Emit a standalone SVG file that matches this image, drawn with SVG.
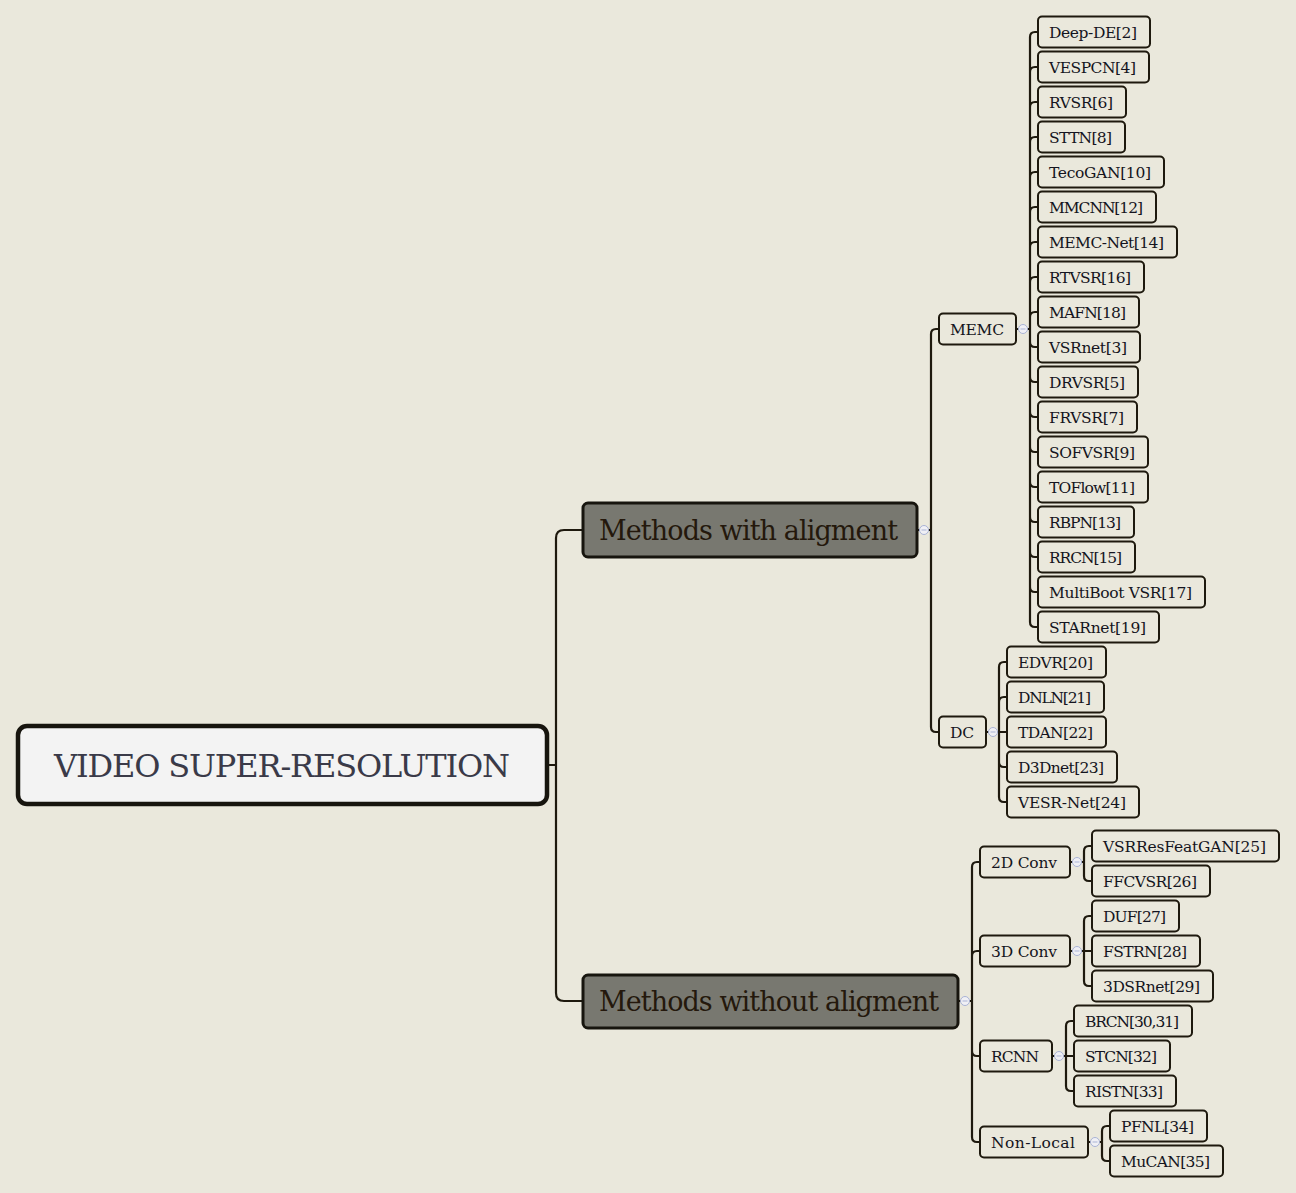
<svg xmlns="http://www.w3.org/2000/svg" width="1296" height="1193" viewBox="0 0 1296 1193">
<style>
.bg{fill:#EAE8DC}
.c{fill:none;stroke:#1e190e;stroke-width:2.2;stroke-linecap:round}
.n rect{fill:#EAE8DC;stroke:#1e190e;stroke-width:2}
.n text{font-family:"DejaVu Serif","Liberation Serif",serif;font-size:15.5px;fill:#141420}
.b rect{fill:#787870;stroke:#17150e;stroke-width:3}
.b text{font-family:"DejaVu Serif","Liberation Serif",serif;font-size:27px;fill:#24180c}
.r rect{fill:#F3F3F3;stroke:#17150e;stroke-width:4.5}
.r text{font-family:"DejaVu Serif","Liberation Serif",serif;font-size:32px;fill:#3a3a48}
.t circle{fill:#f0f0f5;stroke:#a9b3d6;stroke-width:1}
.t path{stroke:#a9b3d6;stroke-width:1}
</style>
<rect class="bg" x="0" y="0" width="1296" height="1193"/>
<g id="connectors">
<path class="c" d="M547,765 L556,765 M556,765 L556,538 Q556,530 564,530 L583,530 M556,765 L556,993 Q556,1001 564,1001 L583,1001"/>
<path class="c" d="M917,530 L931,530 M931,530 L931,334 Q931,329 936,329 L939,329 M931,530 L931,727 Q931,732 936,732 L939,732"/>
<path class="c" d="M1016,329 L1030,329
M1030,329 L1030,37 Q1030,32 1035,32 L1038,32
M1030,329 L1030,72 Q1030,67 1035,67 L1038,67
M1030,329 L1030,107 Q1030,102 1035,102 L1038,102
M1030,329 L1030,142 Q1030,137 1035,137 L1038,137
M1030,329 L1030,177 Q1030,172 1035,172 L1038,172
M1030,329 L1030,212 Q1030,207 1035,207 L1038,207
M1030,329 L1030,247 Q1030,242 1035,242 L1038,242
M1030,329 L1030,282 Q1030,277 1035,277 L1038,277
M1030,329 L1030,317 Q1030,312 1035,312 L1038,312
M1030,329 L1030,342 Q1030,347 1035,347 L1038,347
M1030,329 L1030,377 Q1030,382 1035,382 L1038,382
M1030,329 L1030,412 Q1030,417 1035,417 L1038,417
M1030,329 L1030,447 Q1030,452 1035,452 L1038,452
M1030,329 L1030,482 Q1030,487 1035,487 L1038,487
M1030,329 L1030,517 Q1030,522 1035,522 L1038,522
M1030,329 L1030,552 Q1030,557 1035,557 L1038,557
M1030,329 L1030,587 Q1030,592 1035,592 L1038,592
M1030,329 L1030,622 Q1030,627 1035,627 L1038,627"/>
<path class="c" d="M986,732 L999,732
M999,732 L999,667 Q999,662 1004,662 L1007,662
M999,732 L999,702 Q999,697 1004,697 L1007,697
M999,732 L1007,732
M999,732 L999,762 Q999,767 1004,767 L1007,767
M999,732 L999,797 Q999,802 1004,802 L1007,802"/>
<path class="c" d="M958,1001 L972,1001
M972,1001 L972,867 Q972,862 977,862 L980,862
M972,1001 L972,956 Q972,951 977,951 L980,951
M972,1001 L972,1051 Q972,1056 977,1056 L980,1056
M972,1001 L972,1137 Q972,1142 977,1142 L980,1142"/>
<path class="c" d="M1070,862 L1084,862 M1084,862 L1084,851 Q1084,846 1089,846 L1092,846 M1084,862 L1084,876 Q1084,881 1089,881 L1092,881"/>
<path class="c" d="M1070,951 L1084,951 M1084,951 L1084,921 Q1084,916 1089,916 L1092,916 M1084,951 L1092,951 M1084,951 L1084,981 Q1084,986 1089,986 L1092,986"/>
<path class="c" d="M1052,1056 L1066,1056 M1066,1056 L1066,1026 Q1066,1021 1071,1021 L1074,1021 M1066,1056 L1074,1056 M1066,1056 L1066,1086 Q1066,1091 1071,1091 L1074,1091"/>
<path class="c" d="M1088,1142 L1102,1142 M1102,1142 L1102,1131 Q1102,1126 1107,1126 L1110,1126 M1102,1142 L1102,1156 Q1102,1161 1107,1161 L1110,1161"/>
<g class="t">
<circle cx="924" cy="530" r="4.5"/><path d="M921.5,530 H926.5"/>
<circle cx="1023" cy="329" r="4.5"/><path d="M1020.5,329 H1025.5"/>
<circle cx="993" cy="732" r="4.5"/><path d="M990.5,732 H995.5"/>
<circle cx="965" cy="1001" r="4.5"/><path d="M962.5,1001 H967.5"/>
<circle cx="1077" cy="862" r="4.5"/><path d="M1074.5,862 H1079.5"/>
<circle cx="1077" cy="951" r="4.5"/><path d="M1074.5,951 H1079.5"/>
<circle cx="1059" cy="1056" r="4.5"/><path d="M1056.5,1056 H1061.5"/>
<circle cx="1095" cy="1142" r="4.5"/><path d="M1092.5,1142 H1097.5"/>
</g>
</g>
<g id="root" class="r"><rect x="18" y="726" width="529" height="78" rx="9"/><text x="282" y="777" text-anchor="middle" textLength="456">VIDEO SUPER-RESOLUTION</text></g>
<g id="with" class="b"><rect x="583" y="503" width="334" height="54" rx="5"/><text x="599" y="540" textLength="299">Methods with aligment</text></g>
<g id="without" class="b"><rect x="583" y="975" width="375" height="53" rx="5"/><text x="599" y="1011" textLength="340">Methods without aligment</text></g>
<g id="memc" class="n"><rect x="939" y="313.5" width="77" height="31" rx="4"/><text x="950" y="335" textLength="54">MEMC</text></g>
<g id="dc" class="n"><rect x="939" y="716.5" width="47" height="31" rx="4"/><text x="950" y="738" textLength="24">DC</text></g>
<g id="conv2d" class="n"><rect x="980" y="846.5" width="90" height="31" rx="4"/><text x="991" y="868" textLength="66">2D Conv</text></g>
<g id="conv3d" class="n"><rect x="980" y="935.5" width="90" height="31" rx="4"/><text x="991" y="957" textLength="66">3D Conv</text></g>
<g id="rcnn" class="n"><rect x="980" y="1040.5" width="72" height="31" rx="4"/><text x="991" y="1062" textLength="48">RCNN</text></g>
<g id="nonlocal" class="n"><rect x="980" y="1126.5" width="108" height="31" rx="4"/><text x="991" y="1148" textLength="84">Non-Local</text></g>
<g id="deepde" class="n"><rect x="1038" y="16.5" width="112" height="31" rx="4"/><text x="1049" y="38" textLength="88">Deep-DE[2]</text></g>
<g id="vespcn" class="n"><rect x="1038" y="51.5" width="111" height="31" rx="4"/><text x="1049" y="73" textLength="87">VESPCN[4]</text></g>
<g id="rvsr" class="n"><rect x="1038" y="86.5" width="88" height="31" rx="4"/><text x="1049" y="108" textLength="64">RVSR[6]</text></g>
<g id="sttn" class="n"><rect x="1038" y="121.5" width="87" height="31" rx="4"/><text x="1049" y="143" textLength="63">STTN[8]</text></g>
<g id="tecogan" class="n"><rect x="1038" y="156.5" width="126" height="31" rx="4"/><text x="1049" y="178" textLength="102">TecoGAN[10]</text></g>
<g id="mmcnn" class="n"><rect x="1038" y="191.5" width="118" height="31" rx="4"/><text x="1049" y="213" textLength="94">MMCNN[12]</text></g>
<g id="memcnet" class="n"><rect x="1038" y="226.5" width="139" height="31" rx="4"/><text x="1049" y="248" textLength="115">MEMC-Net[14]</text></g>
<g id="rtvsr" class="n"><rect x="1038" y="261.5" width="106" height="31" rx="4"/><text x="1049" y="283" textLength="82">RTVSR[16]</text></g>
<g id="mafn" class="n"><rect x="1038" y="296.5" width="101" height="31" rx="4"/><text x="1049" y="318" textLength="77">MAFN[18]</text></g>
<g id="vsrnet" class="n"><rect x="1038" y="331.5" width="102" height="31" rx="4"/><text x="1049" y="353" textLength="78">VSRnet[3]</text></g>
<g id="drvsr" class="n"><rect x="1038" y="366.5" width="100" height="31" rx="4"/><text x="1049" y="388" textLength="76">DRVSR[5]</text></g>
<g id="frvsr" class="n"><rect x="1038" y="401.5" width="99" height="31" rx="4"/><text x="1049" y="423" textLength="75">FRVSR[7]</text></g>
<g id="sofvsr" class="n"><rect x="1038" y="436.5" width="110" height="31" rx="4"/><text x="1049" y="458" textLength="86">SOFVSR[9]</text></g>
<g id="toflow" class="n"><rect x="1038" y="471.5" width="110" height="31" rx="4"/><text x="1049" y="493" textLength="86">TOFlow[11]</text></g>
<g id="rbpn" class="n"><rect x="1038" y="506.5" width="96" height="31" rx="4"/><text x="1049" y="528" textLength="72">RBPN[13]</text></g>
<g id="rrcn" class="n"><rect x="1038" y="541.5" width="97" height="31" rx="4"/><text x="1049" y="563" textLength="73">RRCN[15]</text></g>
<g id="multiboot" class="n"><rect x="1038" y="576.5" width="167" height="31" rx="4"/><text x="1049" y="598" textLength="143">MultiBoot VSR[17]</text></g>
<g id="starnet" class="n"><rect x="1038" y="611.5" width="121" height="31" rx="4"/><text x="1049" y="633" textLength="97">STARnet[19]</text></g>
<g id="edvr" class="n"><rect x="1007" y="646.5" width="99" height="31" rx="4"/><text x="1018" y="668" textLength="75">EDVR[20]</text></g>
<g id="dnln" class="n"><rect x="1007" y="681.5" width="97" height="31" rx="4"/><text x="1018" y="703" textLength="73">DNLN[21]</text></g>
<g id="tdan" class="n"><rect x="1007" y="716.5" width="99" height="31" rx="4"/><text x="1018" y="738" textLength="75">TDAN[22]</text></g>
<g id="d3dnet" class="n"><rect x="1007" y="751.5" width="110" height="31" rx="4"/><text x="1018" y="773" textLength="86">D3Dnet[23]</text></g>
<g id="vesrnet" class="n"><rect x="1007" y="786.5" width="132" height="31" rx="4"/><text x="1018" y="808" textLength="108">VESR-Net[24]</text></g>
<g id="vsrresfeatgan" class="n"><rect x="1092" y="830.5" width="187" height="31" rx="4"/><text x="1103" y="852" textLength="163">VSRResFeatGAN[25]</text></g>
<g id="ffcvsr" class="n"><rect x="1092" y="865.5" width="118" height="31" rx="4"/><text x="1103" y="887" textLength="94">FFCVSR[26]</text></g>
<g id="duf" class="n"><rect x="1092" y="900.5" width="87" height="31" rx="4"/><text x="1103" y="922" textLength="63">DUF[27]</text></g>
<g id="fstrn" class="n"><rect x="1092" y="935.5" width="108" height="31" rx="4"/><text x="1103" y="957" textLength="84">FSTRN[28]</text></g>
<g id="3dsrnet" class="n"><rect x="1092" y="970.5" width="121" height="31" rx="4"/><text x="1103" y="992" textLength="97">3DSRnet[29]</text></g>
<g id="brcn" class="n"><rect x="1074" y="1005.5" width="118" height="31" rx="4"/><text x="1085" y="1027" textLength="94">BRCN[30,31]</text></g>
<g id="stcn" class="n"><rect x="1074" y="1040.5" width="96" height="31" rx="4"/><text x="1085" y="1062" textLength="72">STCN[32]</text></g>
<g id="ristn" class="n"><rect x="1074" y="1075.5" width="102" height="31" rx="4"/><text x="1085" y="1097" textLength="78">RISTN[33]</text></g>
<g id="pfnl" class="n"><rect x="1110" y="1110.5" width="97" height="31" rx="4"/><text x="1121" y="1132" textLength="73">PFNL[34]</text></g>
<g id="mucan" class="n"><rect x="1110" y="1145.5" width="113" height="31" rx="4"/><text x="1121" y="1167" textLength="89">MuCAN[35]</text></g>
</svg>
